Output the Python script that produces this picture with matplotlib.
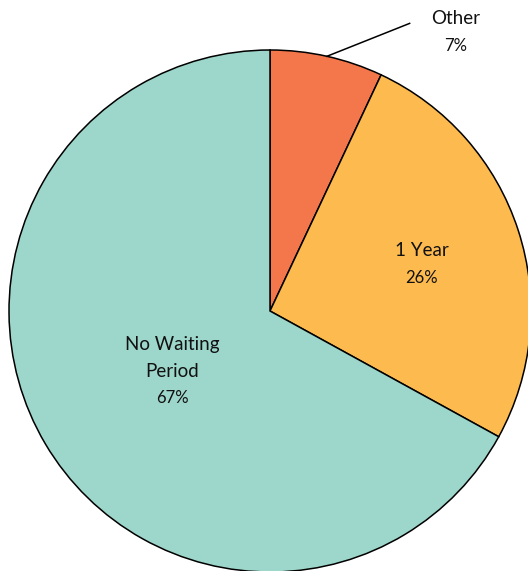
import numpy as np
import matplotlib
matplotlib.use('Agg')
import matplotlib.pyplot as plt

# data
categories = ['Other', '1 Year', 'No Waiting\nPeriod']
shares = [7, 26, 67]
colors = ['#F4774C', '#FDBA4E', '#9DD6CA']

plt.rcParams['font.family'] = ['Lato', 'DejaVu Sans']

fig = plt.figure(figsize=(5.28, 5.71), dpi=100)
ax = fig.add_axes([0, 0, 1, 1])

wedges, _ = ax.pie(shares, colors=colors, startangle=90, counterclock=False,
                   radius=1.0, wedgeprops=dict(edgecolor='black', linewidth=1.1))

# label placement along the wedge middle
label_r = [None, 0.61, 0.435]
for w, cat, val, r in zip(wedges, categories, shares, label_r):
    mid = np.deg2rad((w.theta1 + w.theta2) / 2)
    if r is None:
        # outside label with leader line
        x0, y0 = np.cos(mid), np.sin(mid)
        ax.plot([x0, 0.535], [y0, 1.102], color='black', lw=1.1)
        tx, ty = 0.713, 1.077
    else:
        tx, ty = r * np.cos(mid), r * np.sin(mid)
    ty += 0.042
    nlines = cat.count('\n') + 1
    step = 0.103
    top = ty + step * nlines / 2
    for i, line in enumerate(cat.split('\n')):
        ax.text(tx, top - step * (i + 0.5), line, ha='center', va='center',
                fontsize=13.5, color='#111111')
    ax.text(tx, top - step * (nlines + 0.5), f'{val}%', ha='center', va='center',
            fontsize=12, color='#111111')

ax.set_aspect('auto')
ax.set_xlim(-1.0345, 0.9885)
ax.set_ylim(-0.9962, 1.1916)
ax.axis('off')

fig.savefig('out.png', dpi=100)
